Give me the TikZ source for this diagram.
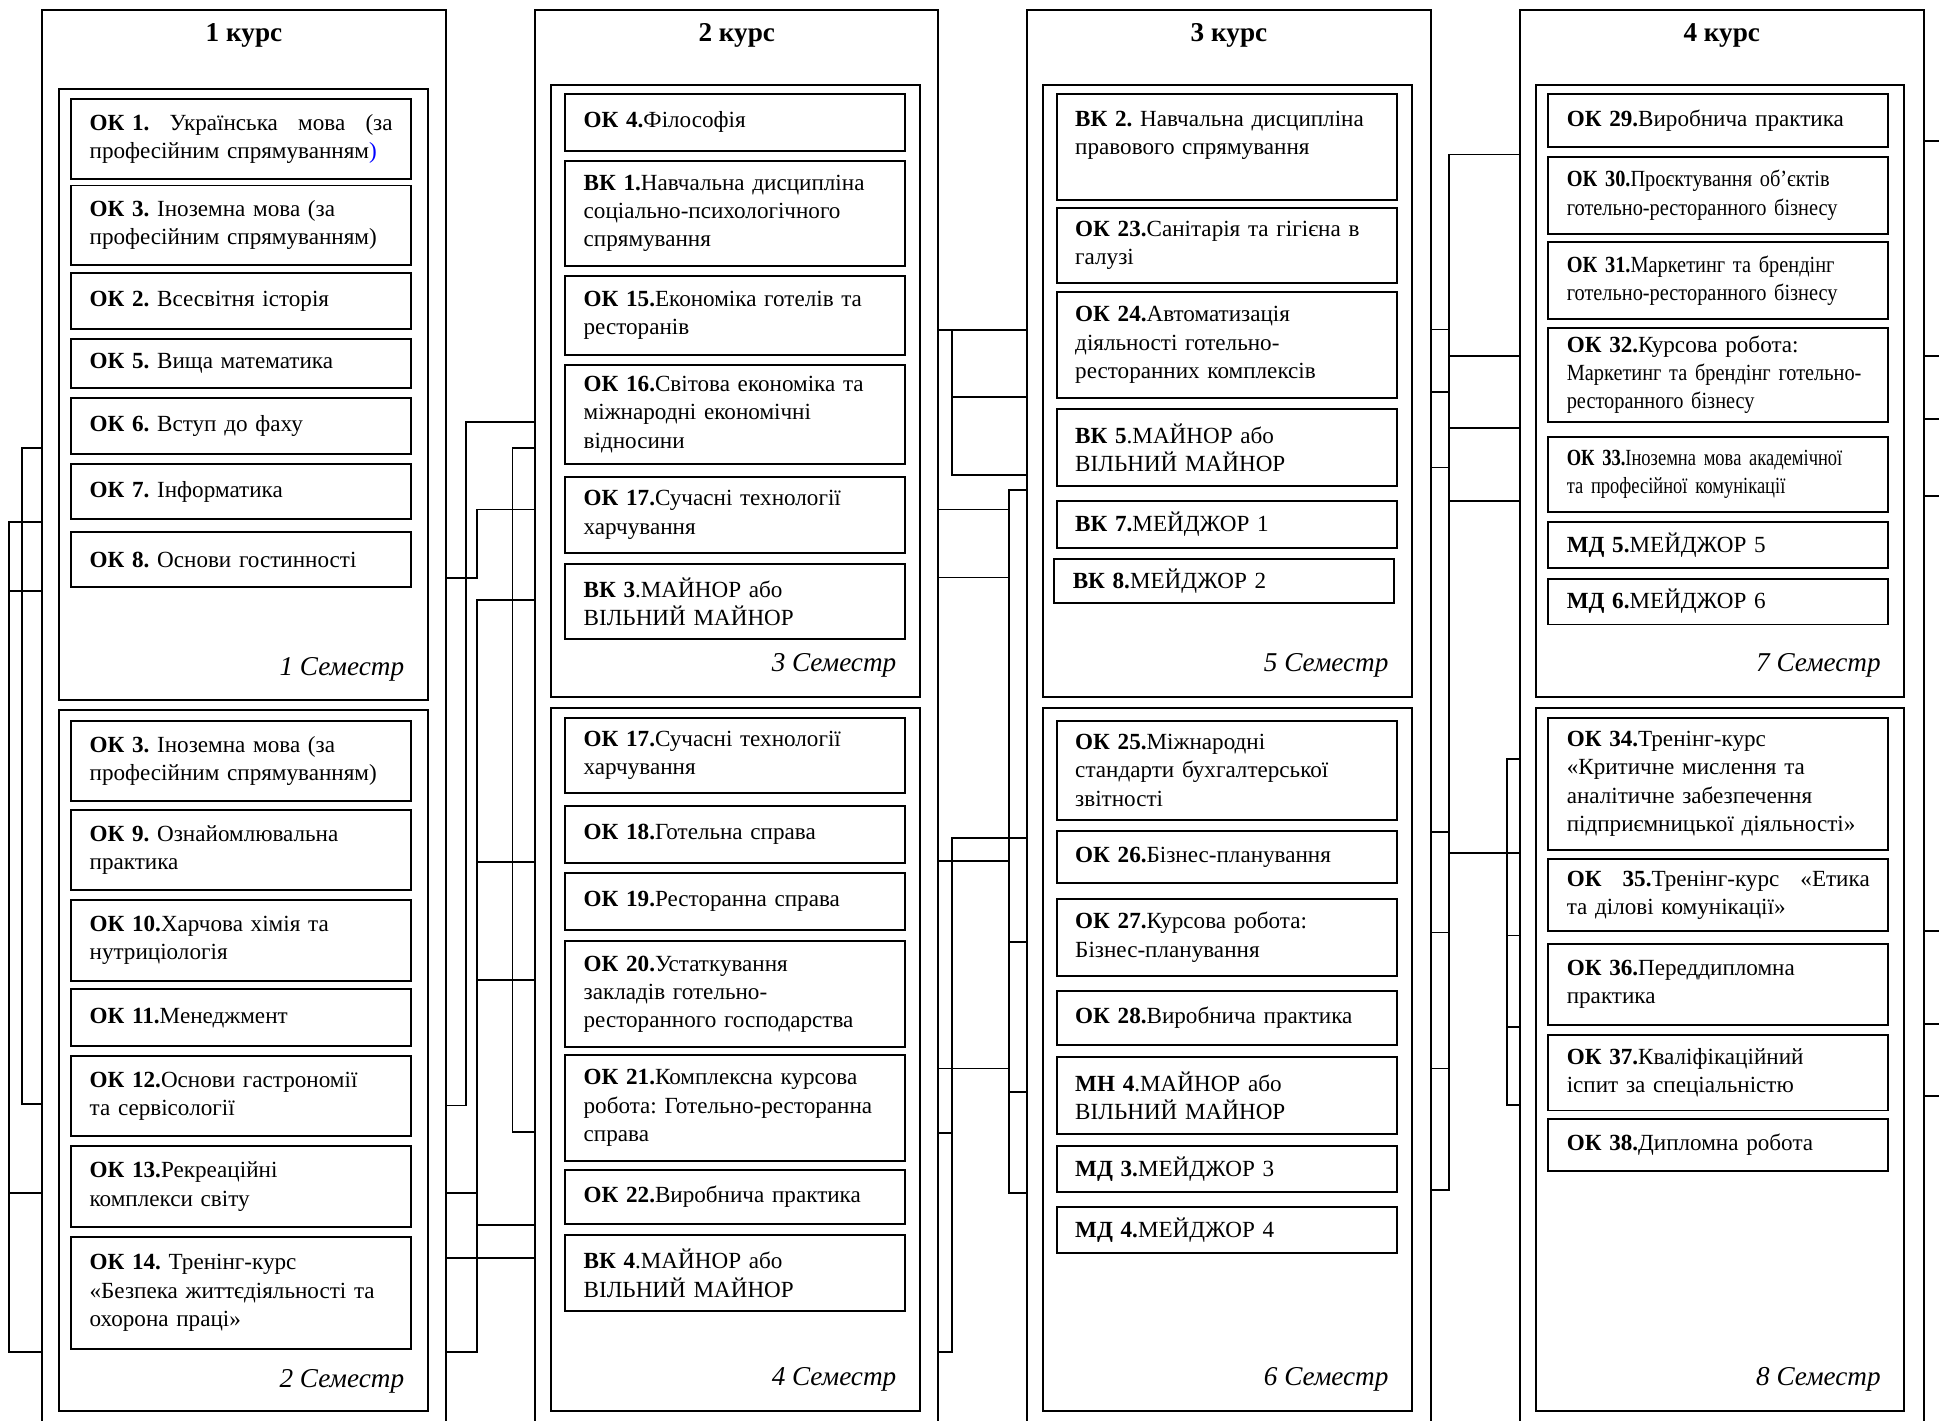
\documentclass[tikz,border=0pt]{standalone}
\usepackage{fontspec}
\setmainfont{Liberation Serif}
\newfontfamily\narrowfont{Liberation Serif}[FakeStretch=0.88]
\newfontfamily\narrowerfont{Liberation Serif}[FakeStretch=0.8]
\usetikzlibrary{positioning}
\frenchspacing

\begin{document}
\begin{tikzpicture}[x=1pt,y=-1pt,
  colbox/.style={draw,line width=1.6pt,minimum height=1170pt,anchor=north west,inner sep=0},
  sembox/.style={draw,line width=1.6pt,minimum width=298pt,anchor=north west,inner sep=0},
  course/.style={font=\fontsize{22}{26}\selectfont\bfseries,inner sep=0},
  semlabel/.style={font=\fontsize{22}{26}\selectfont\itshape,anchor=base east,inner sep=0},
  item/.style={draw,line width=1.6pt,text width=245pt,inner xsep=15pt,inner ysep=0pt,align=left,font=\fontsize{18.7}{23}\selectfont},
  wire/.style={line width=1.4pt}]

  \clip (0,0) rectangle (1568,1149);

  \node[colbox,minimum width=327pt] (c1) at (33,7) {};
  \node[colbox,minimum width=326pt] (c2) at (432,7) {};
  \node[colbox,minimum width=326pt] (c3) at (830,7) {};
  \node[colbox,minimum width=327pt] (c4) at (1228,7) {};
  \node[course,below=12pt of c1.north] (t1) {1 курс};
  \node[course,below=12pt of c2.north] (t2) {2 курс};
  \node[course,below=12pt of c3.north] (t3) {3 курс};
  \node[course,below=12pt of c4.north] (t4) {4 курс};

  \node[sembox,minimum height=494pt] (s1) at (47,71) {};
  \node[sembox,minimum height=567pt] (s2) at (47,573) {};
  \node[sembox,minimum height=495pt] (s3) at (445,68) {};
  \node[sembox,minimum height=568pt] (s4) at (445,572) {};
  \node[sembox,minimum height=495pt] (s5) at (843,68) {};
  \node[sembox,minimum height=568pt] (s6) at (843,572) {};
  \node[sembox,minimum height=495pt] (s7) at (1241,68) {};
  \node[sembox,minimum height=568pt] (s8) at (1241,572) {};
  \node[semlabel] (l1) at (327,546) {1 Семестр};
  \node[semlabel] (l2) at (327,1122) {2 Семестр};
  \node[semlabel] (l3) at (725,543) {3 Семестр};
  \node[semlabel] (l4) at (725,1120) {4 Семестр};
  \node[semlabel] (l5) at (1123,543) {5 Семестр};
  \node[semlabel] (l6) at (1123,1120) {6 Семестр};
  \node[semlabel] (l7) at (1521,543) {7 Семестр};
  \node[semlabel] (l8) at (1521,1120) {8 Семестр};

  \node[item,minimum height=65pt] (ok1) at (195,112.5) {\hbox to 245pt{\textbf{ОК 1.}\hfill Українська\hfill мова\hfill (за}\\професійним спрямуванням\textcolor{blue}{)}};
  \node[item,minimum height=64pt] (ok3a) at (195,182) {\textbf{ОК 3.} Іноземна мова (за\\професійним спрямуванням)};
  \node[item,minimum height=45pt] (ok2) at (195,243.5) {\textbf{ОК 2.} Всесвітня історія};
  \node[item,minimum height=40pt] (ok5) at (195,294) {\textbf{ОК 5.} Вища математика};
  \node[item,minimum height=45pt] (ok6) at (195,344.5) {\textbf{ОК 6.} Вступ до фаху};
  \node[item,minimum height=45pt] (ok7) at (195,397.5) {\textbf{ОК 7.} Інформатика};
  \node[item,minimum height=45pt] (ok8) at (195,452.5) {\textbf{ОК 8.} Основи гостинності};

  \node[item,minimum height=65pt] (ok3b) at (195,615.5) {\textbf{ОК 3.} Іноземна мова (за\\професійним спрямуванням)};
  \node[item,minimum height=65pt] (ok9) at (195,687.5) {\textbf{ОК 9.} Ознайомлювальна\\практика};
  \node[item,minimum height=65pt] (ok10) at (195,760.5) {\textbf{ОК 10.}Харчова хімія та\\нутриціологія};
  \node[item,minimum height=46pt] (ok11) at (195,823) {\textbf{ОК 11.}Менеджмент};
  \node[item,minimum height=65pt] (ok12) at (195,886.5) {\textbf{ОК 12.}Основи гастрономії\\та сервісології};
  \node[item,minimum height=65pt] (ok13) at (195,959.5) {\textbf{ОК 13.}Рекреаційні\\комплекси світу};
  \node[item,minimum height=91pt] (ok14) at (195,1045.5) {\textbf{ОК 14.} Тренінг-курс\\«Безпека життєдіяльності та\\охорона праці»};

  \node[item,minimum height=46pt] (ok4) at (594.5,99) {\textbf{ОК 4.}Філософія};
  \node[item,minimum height=85pt] (vk1) at (594.5,172.5) {\textbf{ВК 1.}Навчальна дисципліна\\соціально-психологічного\\спрямування};
  \node[item,minimum height=64pt] (ok15) at (594.5,255) {\textbf{ОК 15.}Економіка готелів та\\ресторанів};
  \node[item,minimum height=80pt] (ok16) at (594.5,335) {\textbf{ОК 16.}Світова економіка та\\міжнародні економічні\\відносини};
  \node[item,minimum height=61pt] (ok17a) at (594.5,416.5) {\textbf{ОК 17.}Сучасні технології\\харчування};
  \node[item,minimum height=61pt] (vk3) at (594.5,486.5) {\textbf{ВК 3}.МАЙНОР або\\ВІЛЬНИЙ МАЙНОР};

  \node[item,minimum height=60pt] (ok17b) at (594.5,611) {\textbf{ОК 17.}Сучасні технології\\харчування};
  \node[item,minimum height=46pt] (ok18) at (594.5,675) {\textbf{ОК 18.}Готельна справа};
  \node[item,minimum height=46pt] (ok19) at (594.5,729) {\textbf{ОК 19.}Ресторанна справа};
  \node[item,minimum height=86pt] (ok20) at (594.5,804) {\textbf{ОК 20.}Устаткування\\закладів готельно-\\ресторанного господарства};
  \node[item,minimum height=86pt] (ok21) at (594.5,896) {\textbf{ОК 21.}Комплексна курсова\\робота: Готельно-ресторанна\\справа};
  \node[item,minimum height=44pt] (ok22) at (594.5,968) {\textbf{ОК 22.}Виробнича практика};
  \node[item,minimum height=61pt] (vk4) at (594.5,1029.5) {\textbf{ВК 4}.МАЙНОР або\\ВІЛЬНИЙ МАЙНОР};

  \node[item,minimum height=86pt] (vk2) at (992,119) {\textbf{ВК 2.} Навчальна дисципліна\\правового спрямування\\\mbox{}};
  \node[item,minimum height=61pt] (ok23) at (992,198.5) {\textbf{ОК 23.}Санітарія та гігієна в\\галузі};
  \node[item,minimum height=86pt] (ok24) at (992,279) {\textbf{ОК 24.}Автоматизація\\діяльності готельно-\\ресторанних комплексів};
  \node[item,minimum height=62pt] (vk5) at (992,362) {\textbf{ВК 5}.МАЙНОР або\\ВІЛЬНИЙ МАЙНОР};
  \node[item,minimum height=38pt] (vk7) at (992,424) {\textbf{ВК 7.}МЕЙДЖОР 1};
  \node[item,minimum height=36pt] (vk8) at (990,470) {\textbf{ВК 8.}МЕЙДЖОР 2};

  \node[item,minimum height=80pt] (ok25) at (992,623) {\textbf{ОК 25.}Міжнародні\\стандарти бухгалтерської\\звітності};
  \node[item,minimum height=42pt] (ok26) at (992,693) {\textbf{ОК 26.}Бізнес-планування};
  \node[item,minimum height=62pt] (ok27) at (992,758) {\textbf{ОК 27.}Курсова робота:\\Бізнес-планування};
  \node[item,minimum height=44pt] (ok28) at (992,823) {\textbf{ОК 28.}Виробнича практика};
  \node[item,minimum height=62pt] (mn4) at (992,886) {\textbf{МН 4}.МАЙНОР або\\ВІЛЬНИЙ МАЙНОР};
  \node[item,minimum height=37pt] (md3) at (992,945.5) {\textbf{МД 3.}МЕЙДЖОР 3};
  \node[item,minimum height=37pt] (md4) at (992,994.5) {\textbf{МД 4.}МЕЙДЖОР 4};

  \node[item,minimum height=43pt] (ok29) at (1389.5,97.5) {\textbf{ОК 29.}Виробнича практика};
  \node[item,minimum height=62pt,font=\fontsize{18.7}{23}\narrowfont] (ok30) at (1389.5,158) {\textbf{ОК 30.}Проєктування об’єктів\\готельно-ресторанного бізнесу};
  \node[item,minimum height=62pt,font=\fontsize{18.7}{23}\narrowfont] (ok31) at (1389.5,227) {\textbf{ОК 31.}Маркетинг та брендінг\\готельно-ресторанного бізнесу};
  \node[item,minimum height=76pt] (ok32) at (1389.5,303) {\textbf{ОК 32.}Курсова робота:\\\narrowfont Маркетинг та брендінг готельно-\\ресторанного бізнесу};
  \node[item,minimum height=61pt,font=\fontsize{18.7}{23}\narrowerfont] (ok33) at (1389.5,383.5) {\textbf{ОК 33.}Іноземна мова академічної\\та професійної комунікації};
  \node[item,minimum height=37pt] (md5) at (1389.5,440.5) {\textbf{МД 5.}МЕЙДЖОР 5};
  \node[item,minimum height=37pt] (md6) at (1389.5,486.5) {\textbf{МД 6.}МЕЙДЖОР 6};

  \node[item,minimum height=106pt] (ok34) at (1389.5,634) {\textbf{ОК 34.}Тренінг-курс\\«Критичне мислення та\\аналітичне забезпечення\\підприємницької діяльності»};
  \node[item,minimum height=58pt] (ok35) at (1389.5,724) {\hbox to 245pt{\textbf{ОК}\hfill\textbf{35.}Тренінг-курс\hfill«Етика}\\та ділові комунікації»};
  \node[item,minimum height=66pt] (ok36) at (1389.5,796) {\textbf{ОК 36.}Переддипломна\\практика};
  \node[item,minimum height=61pt] (ok37) at (1389.5,867.5) {\textbf{ОК 37.}Кваліфікаційний\\іспит за спеціальністю};
  \node[item,minimum height=42pt] (ok38) at (1389.5,926) {\textbf{ОК 38.}Дипломна робота};

  \draw[wire] (c1.west |- 0,362) -| (18,893) -- (c1.west |- 0,893);
  \draw[wire] (c1.west |- 0,422) -| (7,1093) -- (c1.west |- 0,1093);
  \draw[wire] (7,478) -- (c1.west |- 0,478) (7,965) -- (c1.west |- 0,965);

  \draw[wire] (c2.west |- 0,341) -| (377,894) -- (c1.east |- 0,894);
  \draw[wire] (c2.west |- 0,362.5) -| (414.5,915.5) -- (c2.west |- 0,915.5);
  \draw[wire] (c2.west |- 0,412) -| (385.5,467.5) -- (c1.east |- 0,467.5);
  \draw[wire] (c2.west |- 0,485) -| (385.5,1093) -- (c1.east |- 0,1093);
  \draw[wire] (385.5,697) -- (c2.west |- 0,697) (385.5,792.5) -- (c2.west |- 0,792.5)
    (c1.east |- 0,965) -- (385.5,965) (385.5,990.5) -- (c2.west |- 0,990.5)
    (c1.east |- 0,1017) -- (c2.west |- 0,1017);

  \draw[wire] (c2.east |- 0,267) -- (c3.west |- 0,267) (770,267) |- (c3.west |- 0,384)
    (770,321) -- (c3.west |- 0,321);
  \draw[wire] (c3.west |- 0,396) -| (816,965) -- (c3.west |- 0,965);
  \draw[wire] (c2.east |- 0,412) -- (816,412) (c2.east |- 0,467) -- (816,467)
    (c2.east |- 0,696.5) -- (816,696.5) (816,762) -- (c3.west |- 0,762)
    (c2.east |- 0,864) -- (816,864) (816,883) -- (c3.west |- 0,883);
  \draw[wire] (c3.west |- 0,677.5) -| (770,1093) -- (c2.east |- 0,1093)
    (770,916) -- (c2.east |- 0,916);

  \draw[wire] (c4.west |- 0,125) -| (1172,962) -- (c3.east |- 0,962);
  \foreach \yy in {266.5,317,378,673,754,864}
    \draw[wire] (c3.east |- 0,\yy) -- (1172,\yy);
  \foreach \yy in {288,346,405,690}
    \draw[wire] (1172,\yy) -- (c4.west |- 0,\yy);
  \draw[wire] (c4.west |- 0,613.5) -| (1218.5,893.5) -- (c4.west |- 0,893.5)
    (1218.5,756.5) -- (c4.west |- 0,756.5) (1218.5,830.5) -- (c4.west |- 0,830.5);

  \foreach \yy in {114,288,339,401,753,828,886}
    \draw[wire] (c4.east |- 0,\yy) -- (1575,\yy);
\end{tikzpicture}
\end{document}
